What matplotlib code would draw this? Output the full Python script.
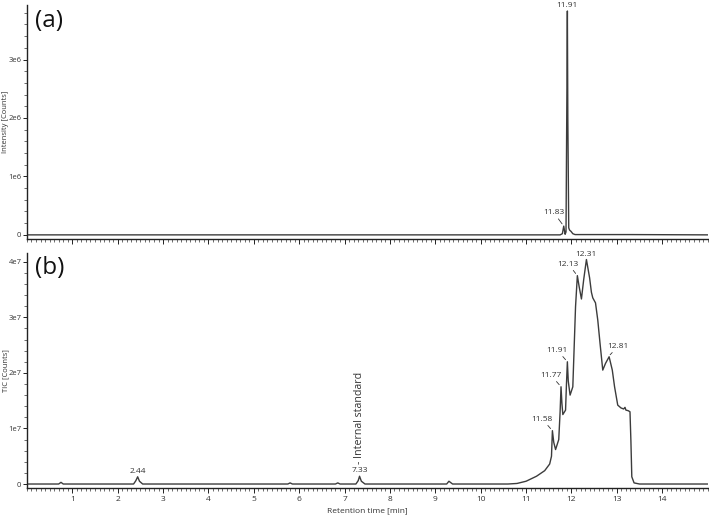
import matplotlib
matplotlib.use("Agg")
import matplotlib.pyplot as plt
from matplotlib.ticker import MultipleLocator

plt.rcParams['font.family'] = ['Open Sans', 'DejaVu Sans']

# ---- data: panel (a) extracted ion chromatogram ----
t_a = [0, 11.75, 11.80, 11.83, 11.86, 11.88, 11.90, 11.91, 11.92, 11.94, 11.96, 11.99, 12.03, 12.08, 13.3, 15]
i_a = [0, 0, 0.02e6, 0.15e6, 0.01e6, 0.05e6, 2.5e6, 3.83e6, 2.0e6, 0.12e6, 0.08e6, 0.06e6, 0.02e6, 0.005e6, 0.005e6, 0]

# ---- data: panel (b) total ion chromatogram ----
t_b = [0, 0.7, 0.75, 0.8, 2.35, 2.40, 2.44, 2.48, 2.55, 5.75, 5.8, 5.85, 6.8, 6.85, 6.9,
       7.25, 7.30, 7.33, 7.37, 7.45, 9.25, 9.3, 9.38, 10.6, 10.8, 11.0, 11.23, 11.41, 11.52,
       11.56, 11.58, 11.61, 11.65, 11.72, 11.75, 11.77, 11.79, 11.81, 11.87, 11.89, 11.91,
       11.93, 11.97, 12.03, 12.09, 12.13, 12.17, 12.22, 12.27, 12.33, 12.40, 12.44, 12.47,
       12.53, 12.58, 12.63, 12.69, 12.75, 12.83, 12.90, 12.95, 13.02, 13.09, 13.15, 13.18,
       13.20, 13.25, 13.29, 13.31, 13.33, 13.38, 13.5, 15]
i_b = [0, 0, 0.03, 0, 0, 0.06, 0.13, 0.05, 0, 0, 0.02, 0, 0, 0.02, 0,
       0, 0.06, 0.14, 0.05, 0, 0, 0.05, 0, 0, 0.01, 0.05, 0.14, 0.24, 0.36,
       0.5, 0.96, 0.75, 0.62, 0.8, 1.3, 1.75, 1.45, 1.25, 1.33, 1.8, 2.2,
       1.85, 1.6, 1.75, 3.19, 3.75, 3.55, 3.33, 3.68, 4.04, 3.71, 3.45, 3.35,
       3.26, 2.95, 2.53, 2.05, 2.17, 2.29, 2.05, 1.75, 1.42, 1.37, 1.35, 1.38,
       1.33, 1.32, 1.30, 0.78, 0.13, 0.02, 0, 0]
i_b = [v * 1e7 for v in i_b]

# peak labels
peaks_a = [(11.83, 0.15e6, "11.83"), (11.91, 3.83e6, "11.91")]
peaks_b = [(2.44, 0.13e7, "2.44"), (7.33, 0.14e7, "7.33"), (11.58, 0.96e7, "11.58"),
           (11.77, 1.75e7, "11.77"), (11.91, 2.2e7, "11.91"), (12.13, 3.75e7, "12.13"),
           (12.31, 4.04e7, "12.31"), (12.81, 2.29e7, "12.81")]

yt_a = [0, 1e6, 2e6, 3e6]
yl_a = ["0", "1e6", "2e6", "3e6"]
yt_b = [0, 1e7, 2e7, 3e7, 4e7]
yl_b = ["0", "1e7", "2e7", "3e7", "4e7"]
xt = list(range(1, 15))
xl = [str(v) for v in xt]

line_c = "#3c3c3c"
txt_c = "#333333"

fig = plt.figure(figsize=(7.09, 5.15), dpi=100)
ax_a = fig.add_axes([0.038, 0.536, 0.96, 0.454])
ax_b = fig.add_axes([0.038, 0.0524, 0.96, 0.4566])

for ax in (ax_a, ax_b):
    for s in ("top", "right"):
        ax.spines[s].set_visible(False)
    ax.spines["left"].set_color("#222222")
    ax.spines["bottom"].set_color("#222222")
    ax.spines["left"].set_linewidth(1.0)
    ax.spines["bottom"].set_linewidth(1.0)
    ax.set_xlim(0, 15)
    ax.set_xticks(xt)
    ax.xaxis.set_minor_locator(MultipleLocator(0.1))
    ax.tick_params(axis="x", which="major", direction="out", length=3.5, width=0.7,
                   colors="#222222", labelsize=6, labelcolor=txt_c, pad=2)
    ax.tick_params(axis="y", which="major", direction="out", length=3, width=0.7,
                   colors="#222222", labelsize=5.5, labelcolor=txt_c, pad=1)
    ax.tick_params(axis="both", which="minor", direction="out", length=2, width=0.6,
                   colors="#555555")

# panel (a)
ax_a.plot(t_a, i_a, color=line_c, lw=1.0)
ax_a.set_ylim(-0.07e6, 3.93e6)
ax_a.set_yticks(yt_a, yl_a)
ax_a.yaxis.set_minor_locator(MultipleLocator(2e5))
ax_a.set_xticklabels([])
ax_a.set_ylabel("Intensity [Counts]", fontsize=5.5, color=txt_c)
ax_a.yaxis.set_label_coords(-0.0265, 0.5)
ax_a.text(0.012, 0.985, "(a)", transform=ax_a.transAxes, fontsize=17.5, va="top", ha="left",
          color="#111111")

offs_a = {"11.83": (-10, 10), "11.91": (0, 2)}
for t, v, lab in peaks_a:
    dx, dy = offs_a[lab]
    ax_a.annotate(lab, xy=(t, v), xytext=(dx, dy), textcoords="offset pixels",
                  ha="center", va="bottom", fontsize=6, color=txt_c,
                  arrowprops=dict(arrowstyle="-", lw=0.6, color=txt_c, shrinkA=0, shrinkB=2)
                  if dy > 3 else None)

# panel (b)
ax_b.plot(t_b, i_b, color=line_c, lw=1.0)
ax_b.set_ylim(-0.072e7, 4.16e7)
ax_b.set_yticks(yt_b, yl_b)
ax_b.yaxis.set_minor_locator(MultipleLocator(2e6))
ax_b.set_xticklabels(xl)
ax_b.set_ylabel("TIC [Counts]", fontsize=5.5, color=txt_c)
ax_b.yaxis.set_label_coords(-0.0265, 0.5)
ax_b.set_xlabel("Retention time [min]", fontsize=6, color=txt_c, labelpad=3)
ax_b.text(0.012, 0.985, "(b)", transform=ax_b.transAxes, fontsize=17.5, va="top", ha="left",
          color="#111111")

offs_b = {"2.44": (0, 2), "7.33": (0, 2), "11.58": (-10, 8), "11.77": (-10, 8),
          "11.91": (-10, 8), "12.13": (-9, 8), "12.31": (0, 2), "12.81": (10, 7)}
for t, v, lab in peaks_b:
    dx, dy = offs_b[lab]
    ax_b.annotate(lab, xy=(t, v), xytext=(dx, dy), textcoords="offset pixels",
                  ha="center", va="bottom", fontsize=6, color=txt_c,
                  arrowprops=dict(arrowstyle="-", lw=0.6, color=txt_c, shrinkA=0, shrinkB=2)
                  if dy > 3 else None)

ax_b.annotate("- Internal standard", xy=(7.33, 0.14e7), xytext=(0, 12),
              textcoords="offset pixels", rotation=90, ha="center", va="bottom",
              fontsize=7.7, color=txt_c)

fig.savefig("out.png", dpi=100)
